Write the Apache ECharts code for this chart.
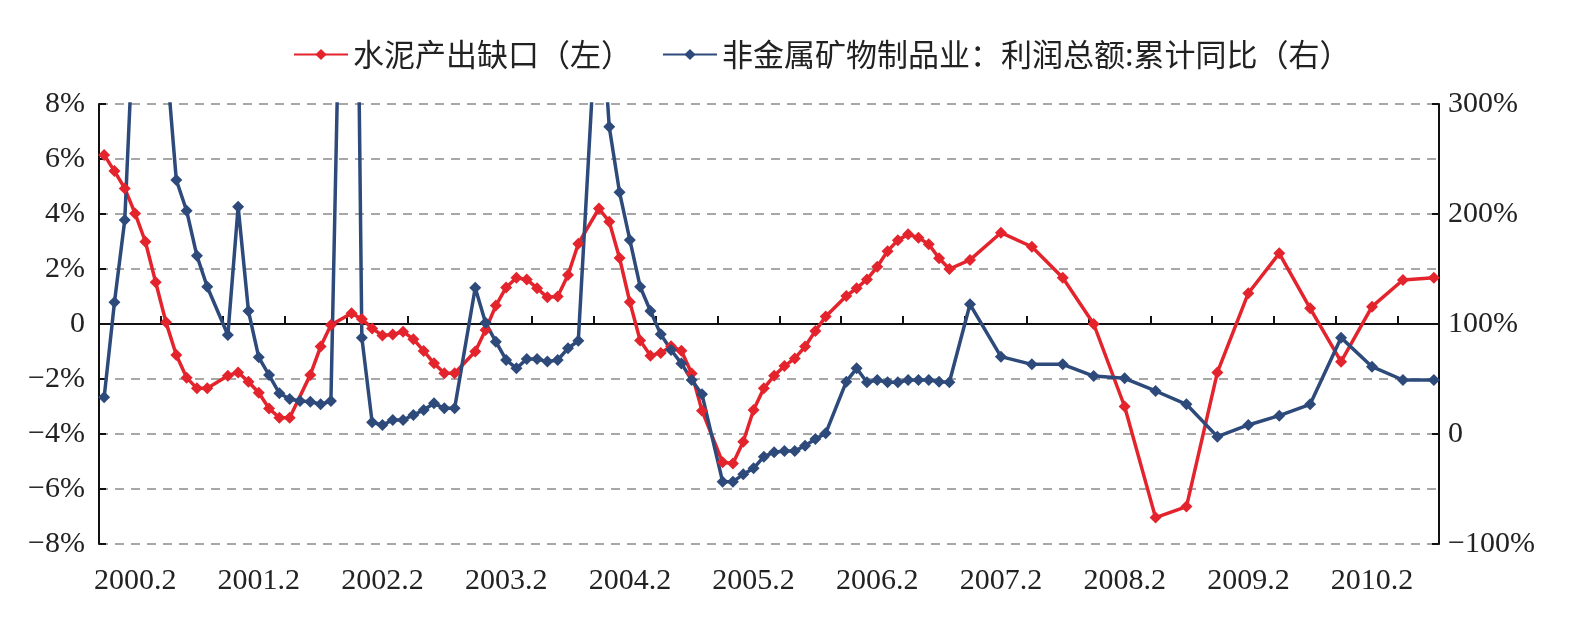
<!DOCTYPE html>
<html>
<head>
<meta charset="utf-8">
<title>水泥产出缺口与非金属矿物制品业利润</title>
<script src="https://cdn.jsdelivr.net/npm/echarts@6/dist/echarts.min.js"></script>
<style>
    html, body { margin: 0; padding: 0; background: #fff; }
    #chart { width: 1586px; height: 624px; }
</style>
</head>
<body>
<div id="chart"></div>
<script>
// 月度类目 2000.2 ~ 2010.11
var months = [];
for (var y = 2000; y <= 2010; y++) {
    for (var m = 1; m <= 12; m++) {
        if ((y === 2000 && m < 2) || (y === 2010 && m > 11)) continue;
        months.push(y + '.' + m);
    }
}

// 水泥产出缺口（左轴, %），null 为缺失月份
var gapValues = [
    6.15, 5.56, 4.93, 4.02, 2.99, 1.52, 0.06, -1.13, -1.95, -2.34, -2.34, null,
    -1.88, -1.76, -2.10, -2.50, -3.07, -3.41, -3.41, null, -1.85, -0.82, -0.04, null,
    0.39, 0.18, -0.16, -0.42, -0.38, -0.28, -0.55, -0.98, -1.43, -1.79, -1.79, null,
    -1.00, -0.22, 0.67, 1.33, 1.68, 1.62, 1.30, 0.97, 1.00, 1.78, 2.92, null,
    4.20, 3.72, 2.40, 0.80, -0.60, -1.15, -1.05, -0.81, -0.97, -1.80, -3.15, null,
    -5.03, -5.07, -4.28, -3.13, -2.34, -1.88, -1.53, -1.25, -0.82, -0.25, 0.27, null,
    1.02, 1.30, 1.62, 2.08, 2.65, 3.05, 3.26, 3.14, 2.90, 2.39, 2.00, null,
    2.33, null, null, 3.32, null, null, 2.81, null, null, 1.68, null, null,
    0.00, null, null, -3.00, null, null, -7.04, null, null, -6.64, null, null,
    -1.76, null, null, 1.12, null, null, 2.57, null, null, 0.57, null, null,
    -1.37, null, null, 0.63, null, null, 1.60, null, null, 1.68
];

// 非金属矿物制品业：利润总额:累计同比（右轴, %），超出 300% 的部分被裁切
var profitValues = [
    33.3, 119.7, 194.5, 405, 480, 430, 345, 230.9, 203, 162, 133.9, null,
    90, 206.7, 111.8, 69.7, 53.6, 37, 31.8, 30, 29.4, 27, 30, null,
    930, 87.6, 10.6, 8.2, 12.7, 12.7, 17.3, 21.8, 27.9, 23.3, 23.3, null,
    133, 101.2, 83.9, 67.3, 59.7, 68.2, 68.2, 65.8, 67.3, 77.9, 84.8, null,
    420, 279.4, 219.7, 176.4, 133.9, 111.8, 90.6, 76.4, 64.2, 49.1, 36.1, null,
    -43.3, -43.3, -36.7, -31.2, -20.6, -16.5, -15.5, -15.5, -10.6, -4.5, 0.6, null,
    47.6, 59.7, 47, 49.1, 47, 47, 49.1, 49.1, 49.1, 47.6, 47, null,
    117.9, null, null, 70.3, null, null, 63.3, null, null, 63.3, null, null,
    52.7, null, null, 50.6, null, null, 39.1, null, null, 27.0, null, null,
    -2.4, null, null, 8.2, null, null, 16.7, null, null, 27.0, null, null,
    87.6, null, null, 61.2, null, null, 49.1, null, null, 49.1
];

var seriesNames = ['水泥产出缺口（左）', '非金属矿物制品业：利润总额:累计同比（右）'];

var RED = '#e4242c';
var BLUE = '#2d4a7b';
var SERIF = '"Liberation Serif", "DejaVu Serif", serif';

function pctLabel(v) {
    if (v === 0) return '0';
    return (v < 0 ? '\u2212' + (-v) : v) + '%';
}

var chart = echarts.init(document.getElementById('chart'));

var option = {
    animation: false,
    backgroundColor: '#fff',
    legend: {
        top: 34,
        left: 288,
        itemWidth: 54,
        itemHeight: 14,
        itemGap: 30,
        textStyle: {
            fontFamily: '"Noto Sans CJK SC", sans-serif',
            fontSize: 31,
            color: '#222'
        },
        data: seriesNames
    },
    grid: {
        left: 99,
        right: 147,
        top: 104,
        bottom: 80
    },
    xAxis: [{
        // 底部标签
        type: 'category',
        data: months,
        boundaryGap: true,
        axisLine: { show: false, onZero: false },
        axisTick: { show: false },
        axisLabel: {
            interval: function (index) { return index % 12 === 0; },
            margin: 22,
            padding: [0, 0, 0, 62],
            fontFamily: SERIF,
            fontSize: 30,
            color: '#222'
        },
        splitLine: { show: false }
    }, {
        // 零轴线及刻度
        type: 'category',
        data: months,
        position: 'top',
        boundaryGap: true,
        axisLine: {
            show: true,
            onZero: true,
            onZeroAxisIndex: 0,
            lineStyle: { color: '#111', width: 2 }
        },
        axisTick: {
            show: true,
            interval: 5,
            inside: false,
            length: 8,
            lineStyle: { color: '#111', width: 2 }
        },
        axisLabel: { show: false },
        splitLine: { show: false }
    }],
    yAxis: [{
        type: 'value',
        min: -8,
        max: 8,
        interval: 2,
        axisLine: { show: true, lineStyle: { color: '#111', width: 2 } },
        axisTick: { show: true, inside: true, length: 7, lineStyle: { color: '#111', width: 2 } },
        axisLabel: {
            formatter: pctLabel,
            margin: 14,
            fontFamily: SERIF,
            fontSize: 30,
            color: '#222'
        },
        splitLine: {
            show: true,
            lineStyle: { color: '#8a8a8a', width: 1.5, type: [9, 7] }
        }
    }, {
        type: 'value',
        min: -100,
        max: 300,
        interval: 100,
        position: 'right',
        axisLine: { show: true, lineStyle: { color: '#111', width: 2 } },
        axisTick: { show: true, inside: true, length: 7, lineStyle: { color: '#111', width: 2 } },
        axisLabel: {
            formatter: pctLabel,
            margin: 9,
            fontFamily: SERIF,
            fontSize: 30,
            color: '#222'
        },
        splitLine: { show: false }
    }],
    series: [{
        name: seriesNames[0],
        type: 'line',
        xAxisIndex: 0,
        yAxisIndex: 0,
        data: gapValues,
        connectNulls: true,
        clip: true,
        showSymbol: true,
        showAllSymbol: true,
        symbol: 'diamond',
        symbolSize: 12,
        lineStyle: { color: RED, width: 3.5 },
        itemStyle: { color: RED }
    }, {
        name: seriesNames[1],
        type: 'line',
        xAxisIndex: 0,
        yAxisIndex: 1,
        data: profitValues,
        connectNulls: true,
        clip: true,
        showSymbol: true,
        showAllSymbol: true,
        symbol: 'diamond',
        symbolSize: 12,
        lineStyle: { color: BLUE, width: 3.5 },
        itemStyle: { color: BLUE }
    }]
};

chart.setOption(option);
</script>
</body>
</html>
